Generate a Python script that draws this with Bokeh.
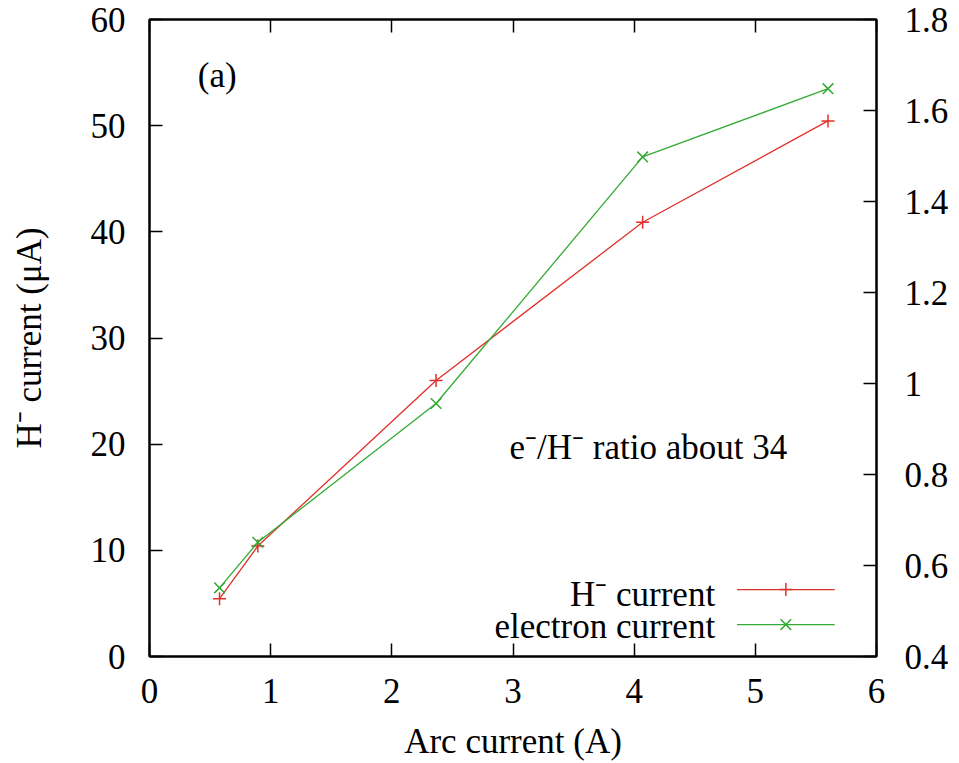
from bokeh.plotting import figure
from bokeh.models import Range1d, LinearAxis, FixedTicker, CustomJSTickFormatter
from bokeh.core.properties import value
from bokeh.embed import file_html
from bokeh.resources import INLINE

# ---- data ----
arc_current = [0.578, 0.894, 2.365, 4.07, 5.60]
h_minus_current = [5.45, 10.4, 26.0, 40.9, 50.45]
electron_current = [0.551, 0.651, 0.956, 1.498, 1.648]

x_ticks = [0, 1, 2, 3, 4, 5, 6]
y_ticks = [0, 10, 20, 30, 40, 50, 60]
y2_ticks = [0.4, 0.6, 0.8, 1.0, 1.2, 1.4, 1.6, 1.8]
y2_labels = ["0.4", "0.6", "0.8", "1", "1.2", "1.4", "1.6", "1.8"]

series_labels = ["H\u207b current", "electron current"]
x_label = "Arc current (A)"
y_label = "H\u207b current (\u03bcA)"
panel_label = "(a)"
ratio_note = "e\u207b/H\u207b ratio about 34"

# ---- style ----
RED = "#e0302a"
GREEN = "#33aa33"
FONT = "Liberation Serif"
FS = "35px"

p = figure(width=951, height=763, x_range=Range1d(0, 6), y_range=Range1d(0, 60),
           output_backend="svg", toolbar_location=None,
           min_border_left=149, min_border_right=72, min_border_top=19, min_border_bottom=106)
p.extra_y_ranges = {"y2": Range1d(0.4, 1.8)}
p.xgrid.visible = False
p.ygrid.visible = False
p.outline_line_color = "black"
p.outline_line_width = 2
p.background_fill_color = "white"
p.border_fill_color = "white"


def style(ax):
    ax.major_tick_in = 13
    ax.major_tick_out = 0
    ax.minor_tick_in = 0
    ax.minor_tick_out = 0
    ax.major_tick_line_width = 1.5
    ax.major_tick_line_color = "black"
    ax.axis_line_width = 2
    ax.axis_line_color = "black"
    ax.major_label_text_font = FONT
    ax.major_label_text_font_size = FS
    ax.major_label_text_color = "black"
    ax.axis_label_text_font = FONT
    ax.axis_label_text_font_size = FS
    ax.axis_label_text_font_style = "normal"
    ax.axis_label_text_color = "black"


xax = p.xaxis[0]
xax.ticker = FixedTicker(ticks=x_ticks)
xax.axis_label = x_label
style(xax)
xax.major_label_standoff = 22
xax.axis_label_standoff = 16

yax = p.yaxis[0]
yax.ticker = FixedTicker(ticks=y_ticks)
yax.axis_label = y_label
style(yax)
yax.major_label_standoff = 24
yax.axis_label_standoff = 39

top = LinearAxis(ticker=FixedTicker(ticks=x_ticks),
                 formatter=CustomJSTickFormatter(code="return ''"))
style(top)
top.major_label_standoff = 0
p.add_layout(top, "above")

right = LinearAxis(y_range_name="y2", ticker=FixedTicker(ticks=y2_ticks),
                   major_label_overrides=dict(zip(y2_ticks, y2_labels)))
style(right)
right.major_label_standoff = 28
p.add_layout(right, "right")

# ---- series ----
p.line(arc_current, h_minus_current, line_color=RED, line_width=1.3)
p.scatter(arc_current, h_minus_current, marker="cross", size=13,
          line_color=RED, line_width=1.5)
p.line(arc_current, electron_current, y_range_name="y2", line_color=GREEN, line_width=1.3)
p.scatter(arc_current, electron_current, y_range_name="y2", marker="x", size=15,
          line_color=GREEN, line_width=1.5)

# ---- annotations ----
p.text(x=[0.559], y=[54.7], text=[panel_label], text_font=value(FONT),
       text_font_size=FS, text_align="center", text_baseline="alphabetic", text_color="black")
p.text(x=[4.117], y=[19.67], text=[ratio_note], text_font=value(FONT),
       text_font_size=FS, text_align="center", text_baseline="alphabetic", text_color="black")

# ---- legend (gnuplot style: label left of sample) ----
leg_text_x = 4.668
leg_x0, leg_x1, leg_xm = 4.849, 5.655, 5.252
leg_rows = [6.30, 3.01]
leg_text_y = [5.88, 2.84]
p.text(x=[leg_text_x, leg_text_x], y=leg_text_y, text=series_labels, text_font=value(FONT),
       text_font_size=FS, text_align="right", text_baseline="alphabetic", text_color="black")
p.segment(x0=[leg_x0, leg_x0], y0=leg_rows, x1=[leg_x1, leg_x1], y1=leg_rows,
          line_color=[RED, GREEN], line_width=1.3)
p.scatter([leg_xm], [leg_rows[0]], marker="cross", size=13, line_color=RED, line_width=1.5)
p.scatter([leg_xm], [leg_rows[1]], marker="x", size=15, line_color=GREEN, line_width=1.5)

open("out.html", "w").write(file_html(p, INLINE))
